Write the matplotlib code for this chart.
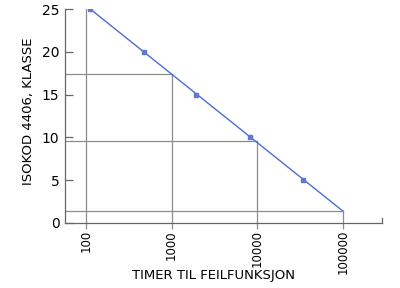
import matplotlib
matplotlib.use("Agg")
import matplotlib.pyplot as plt
import numpy as np

# Data
hours = [112, 475, 1950, 8300, 34000]
iso_class = [25, 20, 15, 10, 5]
line_hours = [112, 100000]
line_class = [25, 1.4]
ref_hours = [100, 1000, 10000, 100000]
ref_class = [25, 17.4, 9.6, 1.4]
x_ticks = [100, 1000, 10000, 100000]
x_ticklabels = ["100", "1000", "10000", "100000"]
y_ticks = [0, 5, 10, 15, 20, 25]

XMIN, XMAX = 56.9, 287000

fig = plt.figure(figsize=(4, 2.88), dpi=100)
ax = fig.add_axes([0.1625, 0.2257, 0.7925, 0.743])

grey = "#8c8c8c"
# reference lines
for h, c in zip(ref_hours, ref_class):
    ax.plot([h, h], [0, c], color=grey, lw=0.9, zorder=1)
    if h != 100:
        ax.plot([XMIN, h], [c, c], color=grey, lw=0.9, zorder=1)

ax.plot(line_hours, line_class, color="#4a6cd4", lw=1.0, zorder=3)
ax.plot(hours, iso_class, linestyle="none", marker="s", ms=3, color="#5f78d0", zorder=4)

ax.set_xscale("log")
ax.set_xlim(XMIN, XMAX)
ax.set_ylim(0, 25)

for s in ["top", "right"]:
    ax.spines[s].set_visible(False)
for s in ["left", "bottom"]:
    ax.spines[s].set_color("#666666")
    ax.spines[s].set_linewidth(0.9)

ax.set_yticks(y_ticks)
ax.set_yticklabels([str(v) for v in y_ticks], fontsize=10)
ax.tick_params(axis="y", direction="in", length=6, color="#666666", width=0.9, pad=4)

ax.set_xticks(x_ticks)
ax.set_xticklabels(x_ticklabels, rotation=90, fontsize=8.5)
ax.xaxis.set_minor_locator(matplotlib.ticker.NullLocator())
ax.tick_params(axis="x", direction="out", length=4, color=grey, width=0.9, pad=1)

# right-end tick on x axis
ax.plot([XMAX, XMAX], [0, 0.6], color="#666666", lw=0.9, clip_on=False)

ax.set_xlabel("TIMER TIL FEILFUNKSJON", fontsize=9.5)
ax.xaxis.set_label_coords(0.47, -0.215)
ax.set_ylabel("ISOKOD 4406, KLASSE", fontsize=9.5)
ax.yaxis.set_label_coords(-0.095, 0.52)

fig.savefig("out.png", dpi=100)
